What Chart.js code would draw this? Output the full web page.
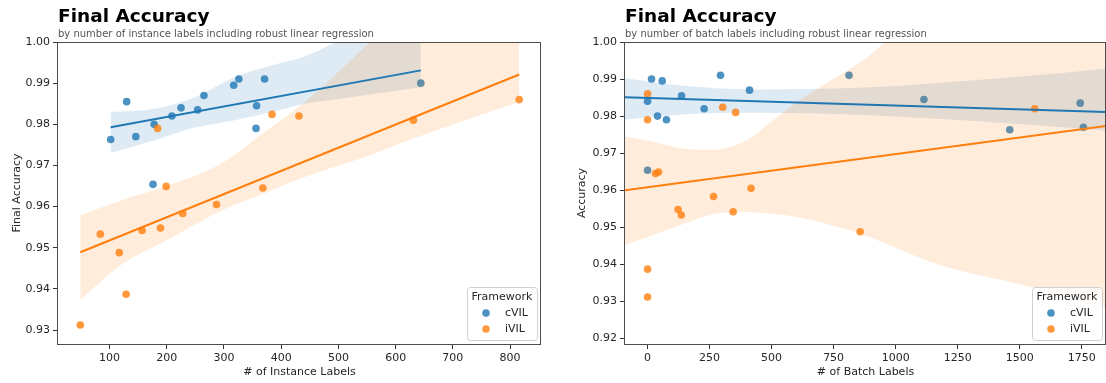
<!DOCTYPE html>
<html>
<head>
<meta charset="utf-8">
<script src="https://cdn.jsdelivr.net/npm/chart.js@4.4.0/dist/chart.umd.min.js"></script>
<style>
  html, body { margin: 0; padding: 0; background: #fff; overflow: hidden; }
  .panel { position: absolute; top: 0; width: 553px; height: 383px; }
  #left { left: 0; }
  #right { left: 553px; }
</style>
</head>
<body>
<div class="panel" id="left"><canvas id="instChart" width="553" height="383"></canvas></div>
<div class="panel" id="right"><canvas id="batchChart" width="553" height="383"></canvas></div>
<script>
const frameworks = ['cVIL', 'iVIL'];

// one entry per run; the same runs appear on both panels
const cvilAccuracy       = [0.9763, 0.9855, 0.9770, 0.9800, 0.9820, 0.9840, 0.9835, 0.9870, 0.9895, 0.9910, 0.9910, 0.9845, 0.9790, 0.9654, 0.9900];
const cvilInstanceLabels = [102, 130, 146, 178, 209, 225, 254, 265, 317, 326, 371, 357, 356, 176, 644];
const cvilBatchLabels    = [1460, 137, 1757, 40, 228, 0, 1744, 411, 59, 294, 812, 1114, 76, 0, 16];

const ivilAccuracy       = [0.9790, 0.9824, 0.9820, 0.9649, 0.9645, 0.9810, 0.9860, 0.9533, 0.9488, 0.9387, 0.9312, 0.9542, 0.9548, 0.9583, 0.9605];
const ivilInstanceLabels = [184, 384, 431, 199, 368, 631, 816, 84, 117, 129, 49, 157, 189, 228, 287];
const ivilBatchLabels    = [0, 303, 1561, 44, 32, 355, 0, 136, 857, 0, 0, 345, 123, 266, 417];

// robust regression fits (end points)
const cvilInstFitX = [102, 644];
const cvilInstFitY = [0.9793, 0.9931];
const ivilInstFitX = [49, 816];
const ivilInstFitY = [0.9489, 0.9921];
const cvilBatchFitX = [-91, 1848];
const cvilBatchFitY = [0.9851, 0.9811];
const ivilBatchFitX = [-91, 1848];
const ivilBatchFitY = [0.9600, 0.9773];

// bootstrap confidence bands
const cvilInstBandX  = [102, 179, 249, 319, 383, 441, 497, 644];
const cvilInstBandLo = [0.9730, 0.9761, 0.9792, 0.9810, 0.9830, 0.9850, 0.9861, 0.9890];
const cvilInstBandHi = [0.9830, 0.9838, 0.9866, 0.9915, 0.9943, 0.9965, 1.0000, 1.0080];

const ivilInstBandX  = [49, 120, 196, 295, 370, 441, 555, 630, 816];
const ivilInstBandLo = [0.9373, 0.9458, 0.9515, 0.9590, 0.9632, 0.9672, 0.9725, 0.9765, 0.9854];
const ivilInstBandHi = [0.9579, 0.9615, 0.9648, 0.9704, 0.9780, 0.9854, 1.0000, 1.0100, 1.0300];

const cvilBatchBandX  = [-91, 156, 423, 870, 1465, 1848];
const cvilBatchBandLo = [0.9791, 0.9805, 0.9809, 0.9803, 0.9780, 0.9761];
const cvilBatchBandHi = [0.9902, 0.9881, 0.9872, 0.9877, 0.9905, 0.9928];

const ivilBatchBandX  = [-91, 25, 150, 265, 400, 490, 625, 890, 960, 1170, 1520, 1848];
const ivilBatchBandLo = [0.9452, 0.9480, 0.9510, 0.9536, 0.9541, 0.9537, 0.9525, 0.9475, 0.9456, 0.9400, 0.9343, 0.9284];
const ivilBatchBandHi = [0.9745, 0.9730, 0.9712, 0.9709, 0.9735, 0.9780, 0.9848, 0.9961, 1.0000, 1.0080, 1.0200, 1.0300];

// axis ticks
const instTicks  = [100, 200, 300, 400, 500, 600, 700, 800];
const batchTicks = [0, 250, 500, 750, 1000, 1250, 1500, 1750];
const instAccTicks  = [0.93, 0.94, 0.95, 0.96, 0.97, 0.98, 0.99, 1.00];
const batchAccTicks = [0.92, 0.93, 0.94, 0.95, 0.96, 0.97, 0.98, 0.99, 1.00];

const LINE = ['#1f77b4', '#ff7f0e'];
const DOT = ['rgba(31,119,180,0.8)', 'rgba(255,127,14,0.8)'];
const BAND = ['rgba(31,119,180,0.15)', 'rgba(255,127,14,0.15)'];
const INK = '#262626';

Chart.defaults.font.family = '"DejaVu Sans", sans-serif';
Chart.defaults.font.size = 11;

function pts(xs, ys) {
  return xs.map((x, i) => ({ x: x, y: ys[i] }));
}

// scatter + band per framework, fit lines drawn last (on top)
function buildDatasets(groups) {
  const sets = [];
  groups.forEach((g, k) => {
    const lo = sets.length + 1;
    sets.push({ type: 'scatter', label: frameworks[k], data: pts(g.px, g.py),
      backgroundColor: DOT[k], borderWidth: 0, pointRadius: 3.8, order: 10 - 4 * k });
    sets.push({ type: 'line', data: pts(g.bx, g.lo), borderColor: 'rgba(0,0,0,0)',
      pointRadius: 0, fill: false, cubicInterpolationMode: 'monotone', order: 9 - 4 * k });
    sets.push({ type: 'line', data: pts(g.bx, g.hi), borderColor: 'rgba(0,0,0,0)',
      backgroundColor: BAND[k], pointRadius: 0, fill: lo, cubicInterpolationMode: 'monotone', order: 9 - 4 * k });
  });
  groups.forEach((g, k) => {
    sets.push({ type: 'line', data: pts(g.fx, g.fy), borderColor: LINE[k], borderWidth: 2,
      pointRadius: 0, fill: false, order: 2 - k });
  });
  return sets;
}

const decor = {
  id: 'decor',
  afterDraw(chart, args, o) {
    const { ctx, chartArea: a } = chart;
    ctx.save();
    // frame
    ctx.strokeStyle = '#4d4d4d';
    ctx.lineWidth = 1;
    ctx.strokeRect(Math.round(a.left) - 0.5, Math.round(a.top) + 0.5, Math.round(a.right - a.left), Math.round(a.bottom - a.top));
    // heading
    ctx.textAlign = 'left';
    ctx.textBaseline = 'alphabetic';
    ctx.fillStyle = '#000';
    ctx.font = 'bold 18.5px "DejaVu Sans"';
    ctx.fillText('Final Accuracy', a.left, 22);
    ctx.fillStyle = '#555';
    ctx.font = '10px "DejaVu Sans"';
    ctx.fillText(o.subtitle, a.left, 37);
    // legend
    const w = 70, h = 53;
    const x0 = a.right - 4 - w, y0 = a.bottom - 4 - h;
    ctx.beginPath();
    ctx.roundRect(x0 + 0.5, y0 + 0.5, w, h, 3);
    ctx.fillStyle = 'rgba(255,255,255,0.8)';
    ctx.fill();
    ctx.strokeStyle = '#d0d0d0';
    ctx.stroke();
    ctx.font = '11px "DejaVu Sans"';
    ctx.fillStyle = INK;
    ctx.textAlign = 'center';
    ctx.textBaseline = 'middle';
    ctx.fillText('Framework', x0 + w / 2, y0 + 10);
    frameworks.forEach((name, k) => {
      const cy = y0 + 26 + k * 16;
      ctx.beginPath();
      ctx.arc(x0 + 19, cy, 3.8, 0, Math.PI * 2);
      ctx.fillStyle = DOT[k];
      ctx.fill();
      ctx.fillStyle = INK;
      ctx.textAlign = 'left';
      ctx.fillText(name, x0 + 38, cy);
    });
    ctx.restore();
  }
};

function makeChart(id, p) {
  return new Chart(document.getElementById(id), {
    type: 'scatter',
    data: { datasets: buildDatasets(p.groups) },
    plugins: [decor],
    options: {
      responsive: false,
      animation: false,
      events: [],
      devicePixelRatio: 1,
      layout: { autoPadding: false, padding: { top: 42, right: p.padRight, bottom: 0, left: 0 } },
      plugins: {
        legend: { display: false },
        tooltip: { enabled: false },
        decor: { subtitle: p.subtitle }
      },
      scales: {
        x: {
          type: 'linear', min: p.xMin, max: p.xMax,
          afterBuildTicks: s => { s.ticks = p.xTicks.map(v => ({ value: v })); },
          afterFit: s => { s.height = 39; s.paddingLeft = 0; s.paddingRight = 0; },
          grid: { drawOnChartArea: false, drawTicks: true, tickLength: 5, color: '#333' },
          border: { display: false },
          ticks: { padding: 3, color: INK, maxRotation: 0, autoSkip: false, callback: v => String(v) },
          title: { display: true, text: p.xTitle, color: INK, padding: { top: 0, bottom: 4 } }
        },
        y: {
          type: 'linear', min: p.yMin, max: p.yMax,
          afterBuildTicks: s => { s.ticks = p.yTicks.map(v => ({ value: v })); },
          afterFit: s => { s.width = p.yWidth; },
          grid: { drawOnChartArea: false, drawTicks: true, tickLength: 5, color: '#333' },
          border: { display: false },
          ticks: { padding: 3, color: INK, callback: v => Number(v).toFixed(2) },
          title: { display: true, text: p.yTitle, color: INK, padding: { top: p.yTitlePad, bottom: 0 } }
        }
      }
    }
  });
}

makeChart('instChart', {
  subtitle: 'by number of instance labels including robust linear regression',
  xTitle: '# of Instance Labels', yTitle: 'Final Accuracy',
  xMin: 10, xMax: 854, yMin: 0.9266, yMax: 1.0,
  xTicks: instTicks, yTicks: instAccTicks,
  yWidth: 58, yTitlePad: 11, padRight: 12,
  groups: [
    { px: cvilInstanceLabels, py: cvilAccuracy, fx: cvilInstFitX, fy: cvilInstFitY, bx: cvilInstBandX, lo: cvilInstBandLo, hi: cvilInstBandHi },
    { px: ivilInstanceLabels, py: ivilAccuracy, fx: ivilInstFitX, fy: ivilInstFitY, bx: ivilInstBandX, lo: ivilInstBandLo, hi: ivilInstBandHi }
  ]
});

makeChart('batchChart', {
  subtitle: 'by number of batch labels including robust linear regression',
  xTitle: '# of Batch Labels', yTitle: 'Accuracy',
  xMin: -91, xMax: 1848, yMin: 0.9185, yMax: 1.0,
  xTicks: batchTicks, yTicks: batchAccTicks,
  yWidth: 72, yTitlePad: 23, padRight: -3,
  groups: [
    { px: cvilBatchLabels, py: cvilAccuracy, fx: cvilBatchFitX, fy: cvilBatchFitY, bx: cvilBatchBandX, lo: cvilBatchBandLo, hi: cvilBatchBandHi },
    { px: ivilBatchLabels, py: ivilAccuracy, fx: ivilBatchFitX, fy: ivilBatchFitY, bx: ivilBatchBandX, lo: ivilBatchBandLo, hi: ivilBatchBandHi }
  ]
});
</script>
</body>
</html>
